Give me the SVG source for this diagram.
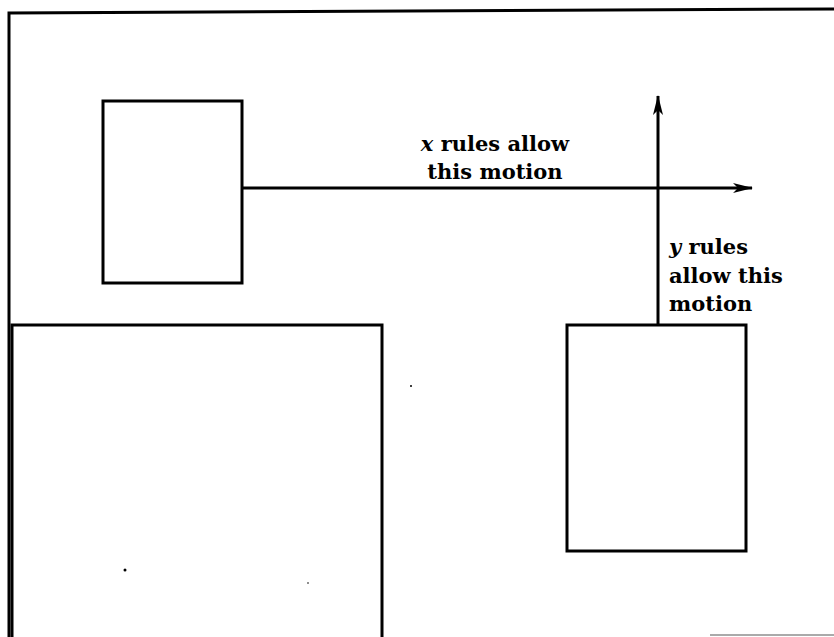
<svg xmlns="http://www.w3.org/2000/svg" width="834" height="637" viewBox="0 0 834 637">
<style>
.ln{stroke:#000;stroke-width:3;fill:none}
.box{stroke:#000;stroke-width:3;fill:none}
.t{font-family:"DejaVu Serif","Liberation Serif",serif;font-weight:bold;font-size:21px;fill:#000}
.it{font-style:italic}
</style>
<defs>
<marker id="ah" markerWidth="20" markerHeight="10" refX="19" refY="5" orient="auto" markerUnits="userSpaceOnUse">
<path d="M0,0 L20,5 L0,10 L5,5 Z" fill="#000"/>
</marker>
</defs>
<rect width="834" height="637" fill="#fff"/>
<g id="frame">
<path class="ln" d="M9,637 L9,13 L834,9" stroke-width="3.5"/>
<line x1="710" y1="635" x2="834" y2="635" stroke="#aaa" stroke-width="2"/>
</g>
<g id="box-small"><rect class="box" x="103" y="101" width="139" height="182"/></g>
<g id="box-large"><path class="box" d="M12,637 L12,325 L382,325 L382,637"/></g>
<g id="box-right"><rect class="box" x="567" y="325" width="179" height="226"/></g>
<g id="connectors">
<line class="ln" x1="242" y1="188" x2="752" y2="188" marker-end="url(#ah)"/>
<line class="ln" x1="658" y1="325" x2="658" y2="96" marker-end="url(#ah)"/>
</g>
<g id="labels">
<text class="t" x="495" y="151" text-anchor="middle"><tspan class="it">x</tspan> rules allow</text>
<text class="t" x="495" y="179" text-anchor="middle">this motion</text>
<text class="t" x="669" y="254"><tspan class="it">y</tspan> rules</text>
<text class="t" x="669" y="283">allow this</text>
<text class="t" x="669" y="311">motion</text>
</g>
<g id="specks" fill="#000">
<circle cx="411" cy="386" r="1"/>
<circle cx="125" cy="570" r="1.5"/>
<circle cx="308" cy="583" r="0.8"/>
</g>
</svg>
